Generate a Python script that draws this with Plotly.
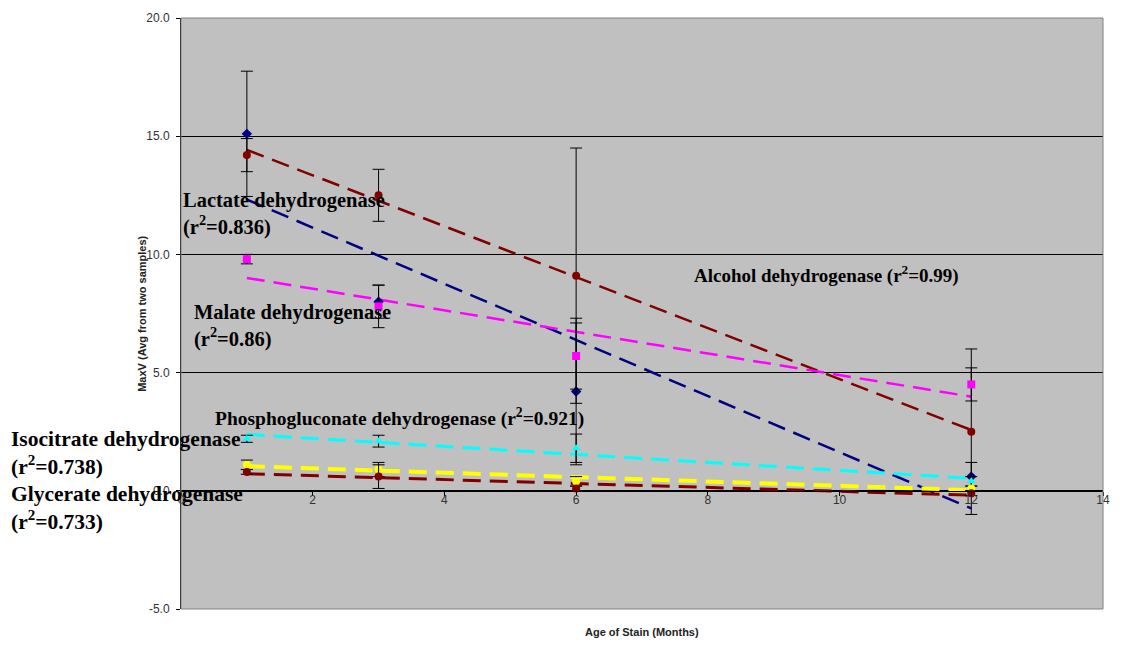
import numpy as np
import plotly.graph_objects as go

# Age of stain (months) at which each enzyme activity was measured
months = [1, 3, 6, 12]

# MaxV averages and error half-widths per enzyme
lactate = [15.1, 8.0, 4.2, 0.6]
lactate_err = [2.65, 0.7, 3.1, 0.6]
alcohol = [14.2, 12.5, 9.1, 2.5]
alcohol_err = [0.7, 1.1, 5.4, 3.5]
malate = [9.8, 7.8, 5.7, 4.5]
malate_err = [0.2, 0.9, 1.4, 0.7]
phosphogluconate = [2.2, 2.1, 1.8, 0.4]
phosphogluconate_err = [0.15, 0.25, 0.6, 0.2]
isocitrate = [1.1, 0.9, 0.4, 0.1]
isocitrate_err = [0.2, 0.3, 0.2, 0.1]
glycerate = [0.8, 0.6, 0.1, -0.1]
glycerate_err = [0.1, 0.5, 0.1, 0.1]

x_ticks = [0, 2, 4, 6, 8, 10, 12, 14]
y_ticks = [-5, 0, 5, 10, 15, 20]
y_tick_text = ["-5.0", "0.0", "5.0", "10.0", "15.0", "20.0"]

W, H = 1121, 656
ML, MR, MT, MB = 181, 11, 15, 47

series = [
    ("Lactate dehydrogenase", lactate, lactate_err, "#000080", "diamond", 2.5),
    ("Alcohol dehydrogenase", alcohol, alcohol_err, "#800000", "circle", 2.5),
    ("Malate dehydrogenase", malate, malate_err, "#FF00FF", "square", 2.5),
    ("Phosphogluconate dehydrogenase", phosphogluconate, phosphogluconate_err, "#00FFFF", "triangle-up", 3),
    ("Isocitrate dehydrogenase", isocitrate, isocitrate_err, "#FFFF00", "circle", 4),
    ("Glycerate dehydrogenase", glycerate, glycerate_err, "#800000", "circle", 3),
]

fig = go.Figure()

# Linear trend lines over the measured range
for name, ys, errs, color, sym, lw in series:
    slope, icpt = np.polyfit(months, ys, 1)
    xs = np.array([min(months), max(months)])
    fig.add_trace(go.Scatter(
        x=xs, y=slope * xs + icpt, mode="lines",
        line=dict(color=color, width=lw, dash="18px,9px"),
        showlegend=False, hoverinfo="skip",
    ))

# Averages with error bars
for name, ys, errs, color, sym, lw in series:
    fig.add_trace(go.Scatter(
        x=months, y=ys, mode="markers", name=name,
        marker=dict(color=color, symbol=sym, size=8),
        error_y=dict(type="data", array=errs, visible=True,
                     color="black", thickness=1, width=6),
        showlegend=False,
    ))


def px_x(p):
    return (p - ML) / (W - ML - MR)


def px_y(p):
    return (H - MB - p) / (H - MT - MB)


serif = "Liberation Serif, Times New Roman, serif"
labels = [
    ("<b>Lactate dehydrogenase<br>(r<sup>2</sup>=0.836)</b>", 181, 212, 20.5),
    ("<b>Malate dehydrogenase<br>(r<sup>2</sup>=0.86)</b>", 192, 325, 20.5),
    ("<b>Alcohol dehydrogenase (r<sup>2</sup>=0.99)</b>", 696, 273, 19),
    ("<b>Phosphogluconate dehydrogenase (r<sup>2</sup>=0.921)</b>", 213, 417, 19.5),
    ("<b>Isocitrate dehydrogenase<br>(r<sup>2</sup>=0.738)</b>", 8, 452, 21.5),
    ("<b>Glycerate dehydrogenase<br>(r<sup>2</sup>=0.733)</b>", 8, 507, 21.5),
]
for text, lx, ly, fs in labels:
    fig.add_annotation(
        x=px_x(lx), y=px_y(ly), xref="paper", yref="paper",
        text=text, showarrow=False, xanchor="left", yanchor="middle",
        align="left", font=dict(family=serif, size=fs, color="black"),
    )

axis_font = dict(family="Arial, Liberation Sans, sans-serif", size=12, color="#333")
title_font = dict(family="Arial, Liberation Sans, sans-serif", size=11, color="#222")

# Axis titles
fig.add_annotation(x=px_x(645), y=px_y(632), xref="paper", yref="paper",
                   text="<b>Age of Stain (Months)</b>", showarrow=False,
                   xanchor="center", yanchor="middle", font=title_font)
fig.add_annotation(x=px_x(141), y=px_y(312), xref="paper", yref="paper",
                   text="<b>MaxV (Avg from two samples)</b>", showarrow=False,
                   textangle=-90, xanchor="center", yanchor="middle",
                   font=title_font)

# Plot-area frame
fig.add_shape(type="rect", xref="paper", yref="paper", x0=0, x1=1, y0=0, y1=1,
              line=dict(color="#808080", width=1), layer="above")

fig.update_layout(
    width=W, height=H,
    margin=dict(l=ML, r=MR, t=MT, b=MB),
    paper_bgcolor="white",
    plot_bgcolor="#C0C0C0",
    showlegend=False,
    xaxis=dict(
        range=[0, 14], tickvals=x_ticks, ticktext=[str(v) for v in x_ticks],
        anchor="free", position=0.2,
        showgrid=False, zeroline=False,
        showline=True, linecolor="black", linewidth=1,
        ticks="outside", ticklen=4, tickcolor="black",
        ticklabelstandoff=-6,
        tickfont=axis_font,
    ),
    yaxis=dict(
        range=[-5, 20], tickvals=y_ticks, ticktext=y_tick_text,
        showgrid=True, gridcolor="black", gridwidth=1,
        zeroline=False,
        showline=True, linecolor="black", linewidth=1,
        ticks="outside", ticklen=4, tickcolor="black",
        ticklabelstandoff=4,
        tickfont=axis_font,
    ),
)

fig.write_html("out.html")
